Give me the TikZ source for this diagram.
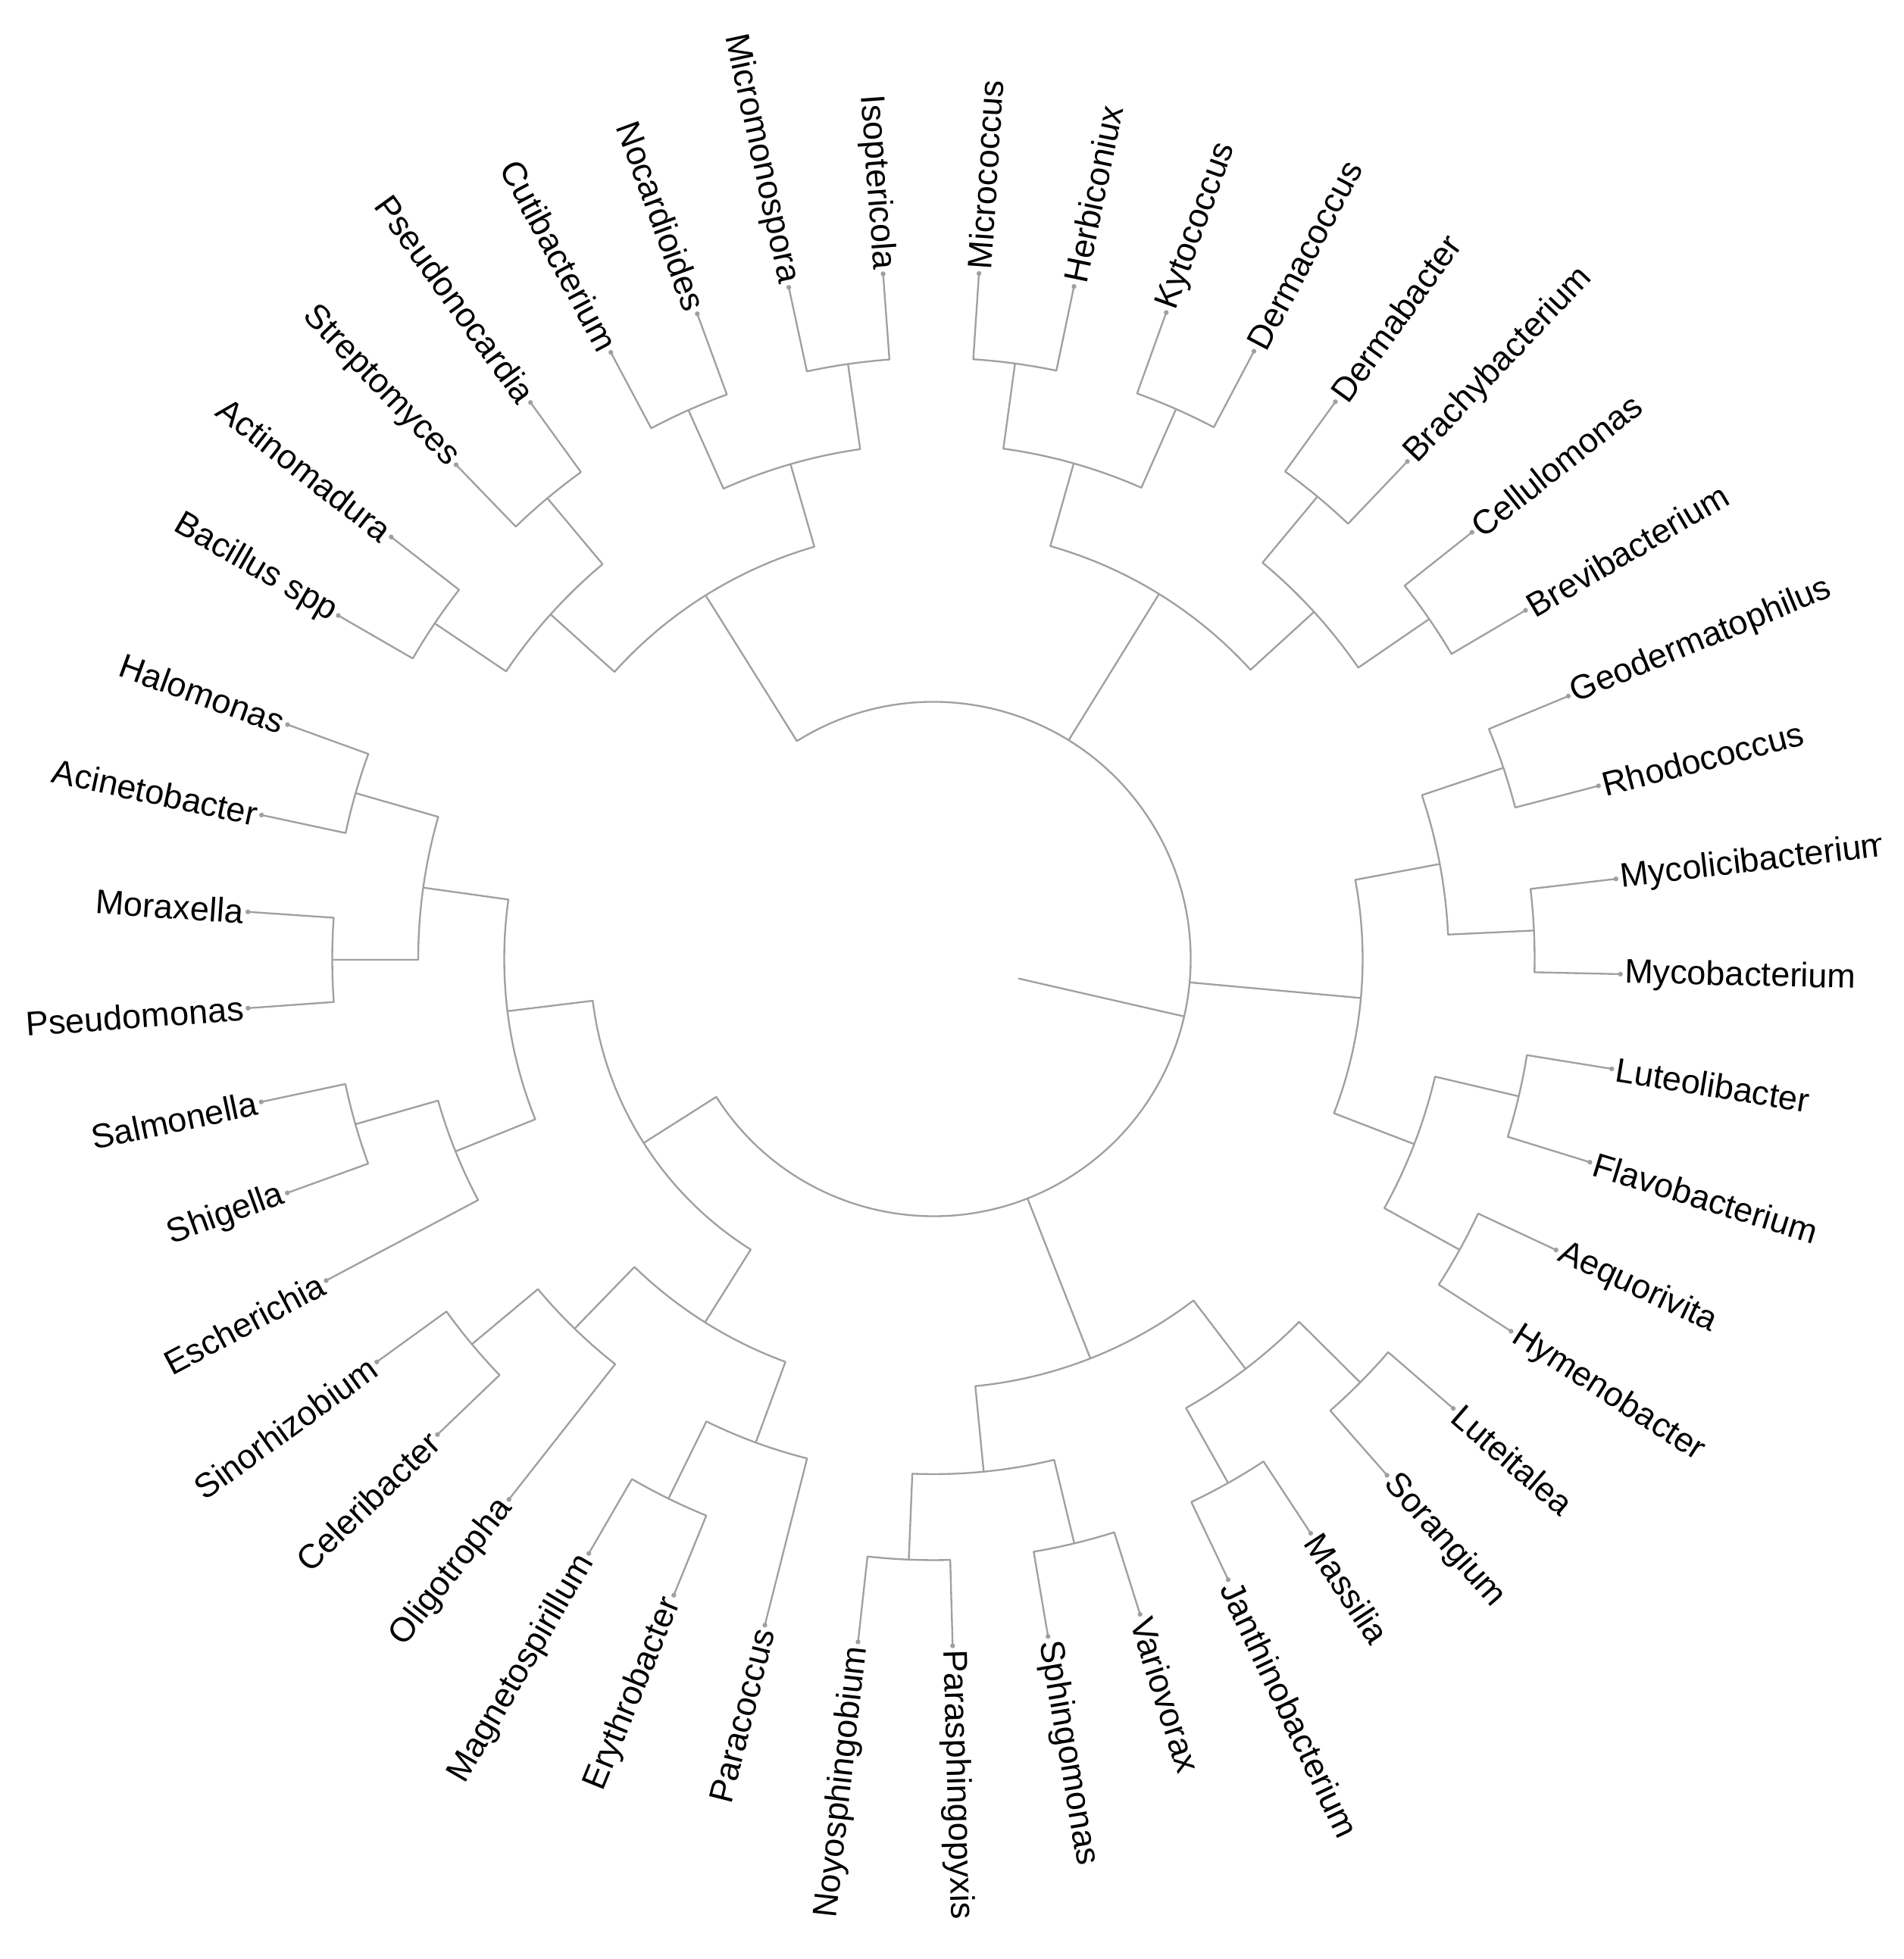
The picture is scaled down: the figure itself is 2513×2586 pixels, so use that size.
\documentclass[tikz,border=0pt]{standalone}
\usepackage{fontspec}
\setmainfont{Liberation Sans}
\definecolor{brgray}{RGB}{160,160,160}
\def\radT{907}
\def\radA{793.5}
\def\radB{680}
\def\radC{566.5}
\def\radD{453}
\def\radE{339.5}
\tikzset{
  br/.style={draw=brgray, line width=0.7pt, line join=round},
  lab/.style={font=\fontsize{13.5}{16}\selectfont, inner sep=0pt, outer sep=0pt, text=black}
}
% parent radius, angle child 1, radius child 1, angle child 2, radius child 2
\newcommand\clade[5]{\draw[br] (#2:#3) -- (#2:#1) arc[start angle=#2, end angle=#4, radius=#1] -- (#4:#5);}
\newcommand\leafR[3]{\fill[brgray] (#2:\radT) circle[radius=3.2];
  \node[lab, anchor=west, rotate=#2] (#1) at (#2:913) {#3};}
\newcommand\leafL[3]{\fill[brgray] (#2:\radT) circle[radius=3.2];
  \node[lab, anchor=east, rotate=#2-180] (#1) at (#2:913) {#3};}
\begin{document}
\begin{tikzpicture}[x=0.3pt,y=0.3pt]
\useasboundingbox (0,0) rectangle (2513,2586);
\clip (0,0) rectangle (2482,2586);
\begin{scope}[shift={(1232,1320)}]
% root edge and root arc
\coordinate (rootstart) at (-12.9:115);
\coordinate (root) at (-12.9:\radE);
\draw[br] (rootstart) -- (root);
\draw[br] (122.06:\radC) -- (122.06:\radE) arc[start angle=122.06, end angle=-147.59, radius=\radE] -- (-147.59:\radD);
\draw[br] (58.29:\radE) -- (58.29:\radC);
\draw[br] (-5.21:\radE) -- (-5.21:\radC);
\draw[br] (-68.555:\radE) -- (-68.555:\radC);
% level 4
\clade{\radD}{237.84}{\radC}{186.98}{\radC}
% level 3
\clade{\radC}{10.635}{\radB}{-21.06}{\radB}
\clade{\radC}{74.2}{\radB}{42.375}{\radB}
\clade{\radC}{138.0}{\radB}{106.11}{\radB}
\clade{\radC}{201.925}{\radB}{172.03}{\radB}
\clade{\radC}{249.825}{\radB}{225.85}{\radB}
\clade{\radC}{307.29}{\radB}{275.6}{\radB}
% level 2
\clade{\radB}{18.55}{\radA}{2.72}{\radA}
\clade{\radB}{346.8}{\radA}{331.075}{\radA}
\clade{\radB}{82.2}{\radA}{66.2}{\radA}
\clade{\radB}{50.3}{\radA}{34.45}{\radA}
\clade{\radB}{114.05}{\radA}{98.175}{\radA}
\clade{\radB}{146.05}{\radA}{129.95}{\radA}
\clade{\radB}{180.08}{\radA}{163.975}{\radA}
\clade{\radB}{207.9}{\radT}{195.95}{\radA}
\clade{\radB}{231.85}{\radT}{219.85}{\radA}
\clade{\radB}{255.8}{\radT}{243.85}{\radA}
\clade{\radB}{283.55}{\radA}{267.65}{\radA}
\clade{\radB}{315.225}{\radA}{299.35}{\radA}
% level 1
\clade{\radA}{22.5}{\radT}{14.6}{\radT}
\clade{\radA}{6.7}{\radT}{-1.26}{\radT}
\clade{\radA}{350.8}{\radT}{342.8}{\radT}
\clade{\radA}{334.95}{\radT}{327.2}{\radT}
\clade{\radA}{86.2}{\radT}{78.2}{\radT}
\clade{\radA}{70.2}{\radT}{62.2}{\radT}
\clade{\radA}{54.2}{\radT}{46.4}{\radT}
\clade{\radA}{38.4}{\radT}{30.5}{\radT}
\clade{\radA}{102.15}{\radT}{94.2}{\radT}
\clade{\radA}{118}{\radT}{110.1}{\radT}
\clade{\radA}{134}{\radT}{125.9}{\radT}
\clade{\radA}{150}{\radT}{142.1}{\radT}
\clade{\radA}{167.9}{\radT}{160.05}{\radT}
\clade{\radA}{184.1}{\radT}{176.06}{\radT}
\clade{\radA}{199.9}{\radT}{192}{\radT}
\clade{\radA}{223.8}{\radT}{215.9}{\radT}
\clade{\radA}{247.8}{\radT}{239.9}{\radT}
\clade{\radA}{271.6}{\radT}{263.7}{\radT}
\clade{\radA}{287.5}{\radT}{279.6}{\radT}
\clade{\radA}{303.3}{\radT}{295.4}{\radT}
\clade{\radA}{319.15}{\radT}{311.3}{\radT}
% leaves, right half
\leafR{Mycobacterium}{-1.26}{Mycobacterium}
\leafR{Mycolicibacterium}{6.7}{Mycolicibacterium}
\leafR{Rhodococcus}{14.6}{Rhodococcus}
\leafR{Geodermatophilus}{22.5}{Geodermatophilus}
\leafR{Brevibacterium}{30.5}{Brevibacterium}
\leafR{Cellulomonas}{38.4}{Cellulomonas}
\leafR{Brachybacterium}{46.4}{Brachybacterium}
\leafR{Dermabacter}{54.2}{Dermabacter}
\leafR{Dermacoccus}{62.2}{Dermacoccus}
\leafR{Kytococcus}{70.2}{Kytococcus}
\leafR{Herbiconiux}{78.2}{Herbiconiux}
\leafR{Micrococcus}{86.2}{Micrococcus}
\leafR{Parasphingopyxis}{271.6}{Parasphingopyxis}
\leafR{Sphingomonas}{279.6}{Sphingomonas}
\leafR{Variovorax}{287.5}{Variovorax}
\leafR{Janthinobacterium}{295.4}{Janthinobacterium}
\leafR{Massilia}{303.3}{Massilia}
\leafR{Sorangium}{311.3}{Sorangium}
\leafR{Luteitalea}{319.15}{Luteitalea}
\leafR{Hymenobacter}{327.2}{Hymenobacter}
\leafR{Aequorivita}{334.95}{Aequorivita}
\leafR{Flavobacterium}{342.8}{Flavobacterium}
\leafR{Luteolibacter}{350.8}{Luteolibacter}
% leaves, left half
\leafL{Isoptericola}{94.2}{Isoptericola}
\leafL{Micromonospora}{102.15}{Micromonospora}
\leafL{Nocardioides}{110.1}{Nocardioides}
\leafL{Cutibacterium}{118}{Cutibacterium}
\leafL{Pseudonocardia}{125.9}{Pseudonocardia}
\leafL{Streptomyces}{134}{Streptomyces}
\leafL{Actinomadura}{142.1}{Actinomadura}
\leafL{Bacillus}{150}{Bacillus spp}
\leafL{Halomonas}{160.05}{Halomonas}
\leafL{Acinetobacter}{167.9}{Acinetobacter}
\leafL{Moraxella}{176.06}{Moraxella}
\leafL{Pseudomonas}{184.1}{Pseudomonas}
\leafL{Salmonella}{192}{Salmonella}
\leafL{Shigella}{199.9}{Shigella}
\leafL{Escherichia}{207.9}{Escherichia}
\leafL{Sinorhizobium}{215.9}{Sinorhizobium}
\leafL{Celeribacter}{223.8}{Celeribacter}
\leafL{Oligotropha}{231.85}{Oligotropha}
\leafL{Magnetospirillum}{239.9}{Magnetospirillum}
\leafL{Erythrobacter}{247.8}{Erythrobacter}
\leafL{Paracoccus}{255.8}{Paracoccus}
\leafL{Noyosphingobium}{263.7}{Noyosphingobium}
\end{scope}
\end{tikzpicture}
\end{document}
